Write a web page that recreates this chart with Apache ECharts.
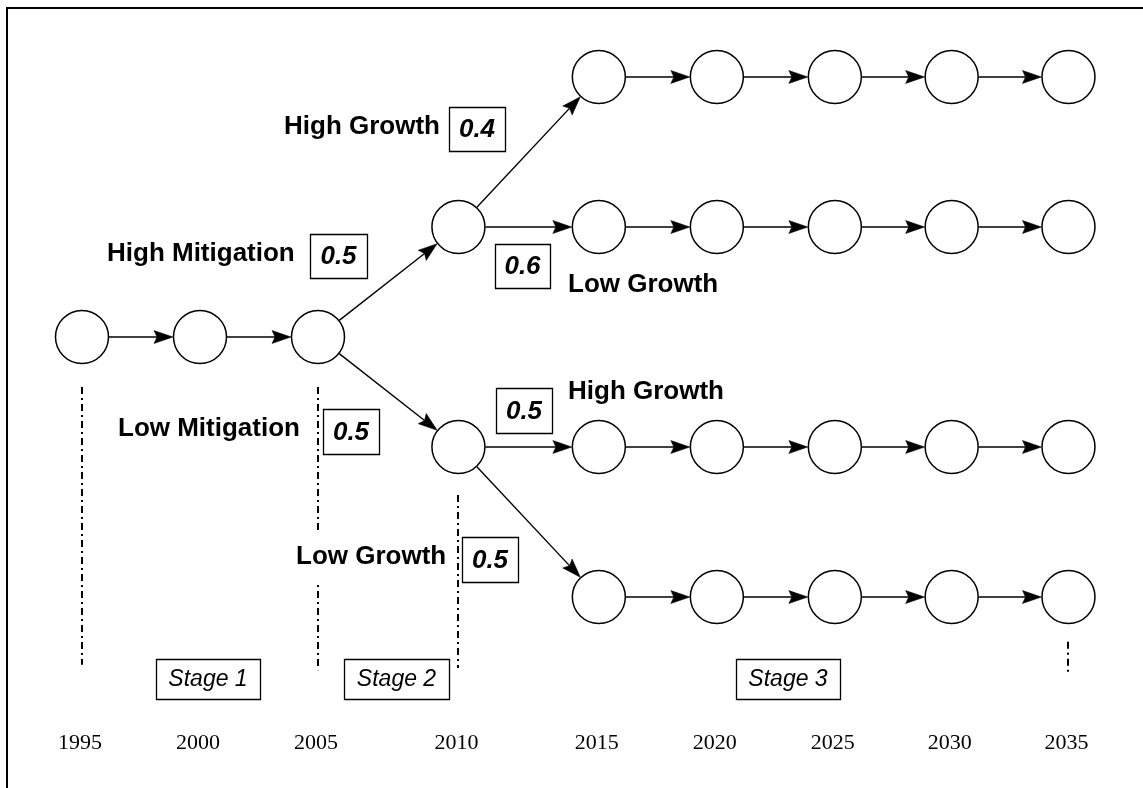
<!DOCTYPE html>
<html>
<head>
<meta charset="utf-8">
<script src="https://cdn.jsdelivr.net/npm/echarts/dist/echarts.min.js"></script>
<style>
  html, body { margin: 0; padding: 0; background: #fff; }
  #main { width: 1143px; height: 788px; }
</style>
</head>
<body>
<div id="main"></div>
<script>
// ---------------- DATA ----------------
const years = [1995, 2000, 2005, 2010, 2015, 2020, 2025, 2030, 2035];
const branchLabels = ['High Mitigation', 'Low Mitigation', 'High Growth', 'Low Growth', 'High Growth', 'Low Growth'];
const branchProbs = [0.5, 0.5, 0.4, 0.6, 0.5, 0.5];
const stageLabels = ['Stage 1', 'Stage 2', 'Stage 3'];
// branch: [from state, to state]
const branchStates = [['root', 'HM'], ['root', 'LM'], ['HM', 'HMHG'], ['HM', 'HMLG'], ['LM', 'LMHG'], ['LM', 'LMLG']];
const finalStates = ['HMHG', 'HMLG', 'LMHG', 'LMLG'];

// ---------------- LAYOUT ----------------
const W = 1143, H = 788;
const ORIGIN_X = 82, PX_PER_COL = 118;   // column 0 pixel position, spacing
const ROOT_Y = 337, PX_PER_ROW = 110;
const COL = [0, 1, 2, 3.19, 4.38, 5.38, 6.38, 7.37, 8.36];     // column slot of each year
const ROW = { root: 0, HM: 1, LM: -1, HMHG: 2.364, HMLG: 1, LMHG: -1, LMLG: -2.364 };
const YEAR_ROW = -3.691;
const guides = [ // dash-dot vertical guides: [year index, top level, bottom level]
  [0, -0.455, -2.98], [2, -0.455, -3.03], [3, -1.436, -3.01], [8, -2.77, -3.05]
];
const R = 27;
const FONT = '"Liberation Sans", Arial, Helvetica, sans-serif';

// nodes
const nodes = [];
[0, 1, 2].forEach(i => nodes.push([COL[i], ROW.root]));
nodes.push([COL[3], ROW.HM], [COL[3], ROW.LM]);
finalStates.forEach(s => { for (let i = 4; i < years.length; i++) nodes.push([COL[i], ROW[s]]); });

// edges
const edges = [];
edges.push([COL[0], ROW.root, COL[1], ROW.root], [COL[1], ROW.root, COL[2], ROW.root]);
branchStates.forEach(([a, b]) => {
  const ia = a === 'root' ? 2 : 3;
  edges.push([COL[ia], ROW[a], COL[ia + 1], ROW[b]]);
});
finalStates.forEach(s => { for (let i = 4; i < years.length - 1; i++) edges.push([COL[i], ROW[s], COL[i + 1], ROW[s]]); });

// annotation layout (pixels): label [left, centerY], box [x, y, w, h]
const labelPos = [[107, 254], [118, 429], [284, 127], [568, 285], [568, 392], [296, 557]];
const boxPos = [[310, 234, 57, 44], [323, 409, 56, 45], [449, 107, 56, 44], [495, 244, 55, 44], [496, 388, 56, 45], [462, 537, 56, 45]];
const stagePos = [[156, 659, 104, 40], [344, 659, 105, 40], [736, 659, 104, 40]];

const graphic = [];
graphic.push({ type: 'rect', z: 100, silent: true, shape: { x: 7, y: 8, width: 1400, height: 1000 }, style: { fill: 'none', stroke: '#000', lineWidth: 2 } });
// white mask where the "Low Growth" label crosses the 2005 guide
graphic.push({ type: 'rect', z: 99, silent: true, shape: { x: 294, y: 534, width: 152, height: 48 }, style: { fill: '#fff', stroke: null } });
branchLabels.forEach((t, i) => {
  graphic.push({ type: 'text', z: 101, silent: true, x: labelPos[i][0], y: labelPos[i][1],
    style: { text: t, font: 'bold 26px ' + FONT, fill: '#000', textAlign: 'left', textVerticalAlign: 'middle' } });
  const b = boxPos[i];
  graphic.push({ type: 'rect', z: 100, silent: true, shape: { x: b[0] + 0.5, y: b[1] + 0.5, width: b[2], height: b[3] },
    style: { fill: '#fff', stroke: '#000', lineWidth: 1.3 } });
  graphic.push({ type: 'text', z: 101, silent: true, x: b[0] + b[2] / 2, y: b[1] + b[3] / 2 + 1,
    style: { text: branchProbs[i].toFixed(1), font: 'italic bold 26px ' + FONT, fill: '#000', textAlign: 'center', textVerticalAlign: 'middle' } });
});
stageLabels.forEach((t, i) => {
  const b = stagePos[i];
  graphic.push({ type: 'rect', z: 100, silent: true, shape: { x: b[0] + 0.5, y: b[1] + 0.5, width: b[2], height: b[3] },
    style: { fill: '#fff', stroke: '#000', lineWidth: 1.3 } });
  graphic.push({ type: 'text', z: 101, silent: true, x: b[0] + b[2] / 2, y: b[1] + b[3] / 2 + 1,
    style: { text: t, font: 'italic 23px ' + FONT, fill: '#000', textAlign: 'center', textVerticalAlign: 'middle' } });
});

const chart = echarts.init(document.getElementById('main'));
chart.setOption({
  animation: false,
  backgroundColor: '#fff',
  grid: { left: 0, right: 0, top: 0, bottom: 0 },
  xAxis: { type: 'value', min: -ORIGIN_X / PX_PER_COL, max: (W - ORIGIN_X) / PX_PER_COL, show: false },
  yAxis: { type: 'value', min: -(H - ROOT_Y) / PX_PER_ROW, max: ROOT_Y / PX_PER_ROW, show: false },
  series: [
    { // dash-dot guides
      type: 'custom', silent: true, z: 1,
      data: guides.map(g => [COL[g[0]], g[1], g[2]]),
      encode: { x: 0, y: [1, 2] },
      renderItem: (params, api) => {
        const p1 = api.coord([api.value(0), api.value(1)]);
        const p2 = api.coord([api.value(0), api.value(2)]);
        return { type: 'line', shape: { x1: Math.round(p1[0]), y1: p1[1], x2: Math.round(p2[0]), y2: p2[1] },
          style: { stroke: '#000', lineWidth: 2, lineDash: [7, 4, 2, 4] } };
      }
    },
    { // arrows
      type: 'custom', silent: true, z: 2,
      data: edges,
      encode: { x: [0, 2], y: [1, 3] },
      renderItem: (params, api) => {
        const a = api.coord([api.value(0), api.value(1)]);
        const b = api.coord([api.value(2), api.value(3)]);
        const dx = b[0] - a[0], dy = b[1] - a[1];
        const L = Math.hypot(dx, dy);
        const ux = dx / L, uy = dy / L, nx = -uy, ny = ux;
        const s = [a[0] + ux * R, a[1] + uy * R];
        const e = [b[0] - ux * R, b[1] - uy * R];
        const hl = 19, hw = 6.5;
        const base = [e[0] - ux * hl, e[1] - uy * hl];
        const notch = [e[0] - ux * (hl - 3), e[1] - uy * (hl - 3)];
        return { type: 'group', children: [
          { type: 'line', shape: { x1: s[0], y1: s[1], x2: notch[0], y2: notch[1] }, style: { stroke: '#000', lineWidth: 1.4 } },
          { type: 'polygon', shape: { points: [e, [base[0] + nx * hw, base[1] + ny * hw], notch, [base[0] - nx * hw, base[1] - ny * hw]] },
            style: { fill: '#000', stroke: '#000', lineWidth: 0.5 } }
        ] };
      }
    },
    { // nodes
      type: 'scatter', silent: true, z: 3,
      data: nodes,
      symbol: 'circle', symbolSize: 53,
      itemStyle: { color: '#fff', borderColor: '#000', borderWidth: 1.5, opacity: 1 },
      emphasis: { disabled: true }
    },
    { // year labels
      type: 'custom', silent: true, z: 3,
      data: years.map((y, i) => [COL[i], YEAR_ROW, y]),
      encode: { x: 0, y: 1 },
      renderItem: (params, api) => {
        const p = api.coord([api.value(0), api.value(1)]);
        return { type: 'text', x: p[0] - 2, y: p[1],
          style: { text: String(api.value(2)), font: '22px "Liberation Serif", "Times New Roman", serif', fill: '#000',
            textAlign: 'center', textVerticalAlign: 'middle' } };
      }
    }
  ],
  graphic: graphic
});
</script>
</body>
</html>
